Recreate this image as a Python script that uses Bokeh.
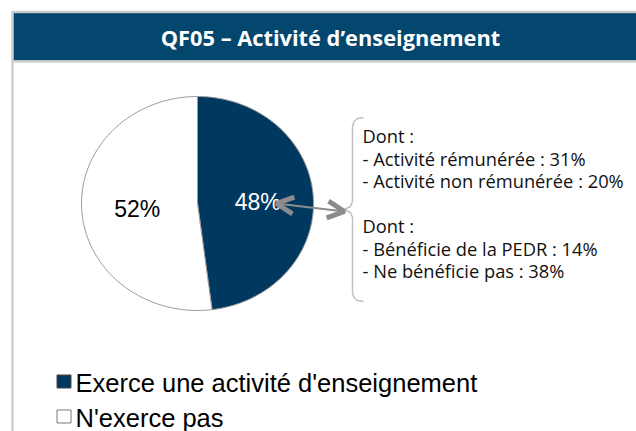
import numpy as np
from bokeh.plotting import figure
from bokeh.models import Range1d, Arrow, OpenHead
from bokeh.core.properties import value
from bokeh.embed import file_html
from bokeh.resources import INLINE

# ---- data ----
title = "QF05 – Activité d’enseignement"
categories = ["Exerce une activité d'enseignement", "N'exerce pas"]
shares = [48, 52]
colors = ["#01385f", "#ffffff"]
label_colors = ["#ffffff", "#000000"]
detail_lines = [
    "Dont :",
    "- Activité rémunérée : 31%",
    "- Activité non rémunérée : 20%",
    "",
    "Dont :",
    "- Bénéficie de la PEDR : 14%",
    "- Ne bénéficie pas : 38%",
]

W, H = 636, 431
p = figure(width=W, height=H, x_range=Range1d(0, W), y_range=Range1d(H, 0),
           output_backend="svg", toolbar_location=None, min_border=0,
           x_axis_location=None, y_axis_location=None)
p.grid.visible = False
p.outline_line_color = None
p.background_fill_color = "white"

# ---- frame / title bar ----
p.quad(left=12, right=W, top=12, bottom=60, fill_color="#03466e", line_color=None)
p.line([11, W], [11.5, 11.5], line_color="#c9c9c9", line_width=2.5)
p.line([11, W], [61, 61], line_color="#cfcfcf", line_width=2.5)
p.line([12, 12], [11, H], line_color="#cfcfcf", line_width=2.5)
p.text(x=[330], y=[37], text=[title], text_align="center", text_baseline="middle",
       text_color="white", text_font=value("Open Sans"), text_font_style="bold",
       text_font_size="21.8px")

# ---- pie (slightly elliptical) ----
cx, cy, rx, ry = 197, 203, 116, 107
frac = np.cumsum([0] + shares) / sum(shares)
xs, ys, lx, ly = [], [], [], []
for i in range(len(shares)):
    th = np.linspace(frac[i], frac[i + 1], 120) * 2 * np.pi
    xs.append([cx] + list(cx + rx * np.sin(th)))
    ys.append([cy] + list(cy - ry * np.cos(th)))
    mid = (frac[i] + frac[i + 1]) * np.pi
    lx.append(cx + 0.52 * rx * np.sin(mid))
    ly.append(cy - 0.52 * ry * np.cos(mid) + 2)
p.patches(xs, ys, fill_color=colors, line_color="#9b9b9b", line_width=1)
p.text(x=lx, y=ly, text=[f"{s}%" for s in shares], text_align="center",
       text_baseline="middle", text_color=label_colors,
       text_font=value("Liberation Sans"), text_font_size="23px")

# ---- double arrow ----
head = dict(size=17, line_color="#8c8c8c", line_width=5)
p.add_layout(Arrow(x_start=276, y_start=203, x_end=344, y_end=211,
                   start=OpenHead(**head), end=OpenHead(**head),
                   line_color="#8c8c8c", line_width=2))

# ---- brace ----
bx = [363, 357, 353.5, 352, 352, 350, 344, 350, 352, 352, 353.5, 357, 363]
by = [117, 118, 121, 126, 201, 206, 209, 212, 217, 293, 297, 300, 301]
p.line(bx, by, line_color="#c0c0c0", line_width=1.5)

# ---- detail text ----
p.text(x=[362] * len(detail_lines), y=[135 + 22.5 * i for i in range(len(detail_lines))],
       text=detail_lines, text_baseline="middle", text_color="#111111",
       text_font=value("Open Sans"), text_font_size="18.3px")

# ---- legend ----
leg_y = [381 + 35 * i for i in range(len(categories))]
p.rect(x=[63.5] * len(categories), y=leg_y, width=14, height=13,
       fill_color=colors, line_color=["#4a4a4a", "#7a7a7a"], line_width=1)
p.text(x=[75] * len(categories), y=[y + 1 for y in leg_y], text=categories,
       text_baseline="middle", text_color="#000000",
       text_font=value("Liberation Sans"), text_font_size="25.5px")

open("out.html", "w").write(file_html(p, INLINE))
